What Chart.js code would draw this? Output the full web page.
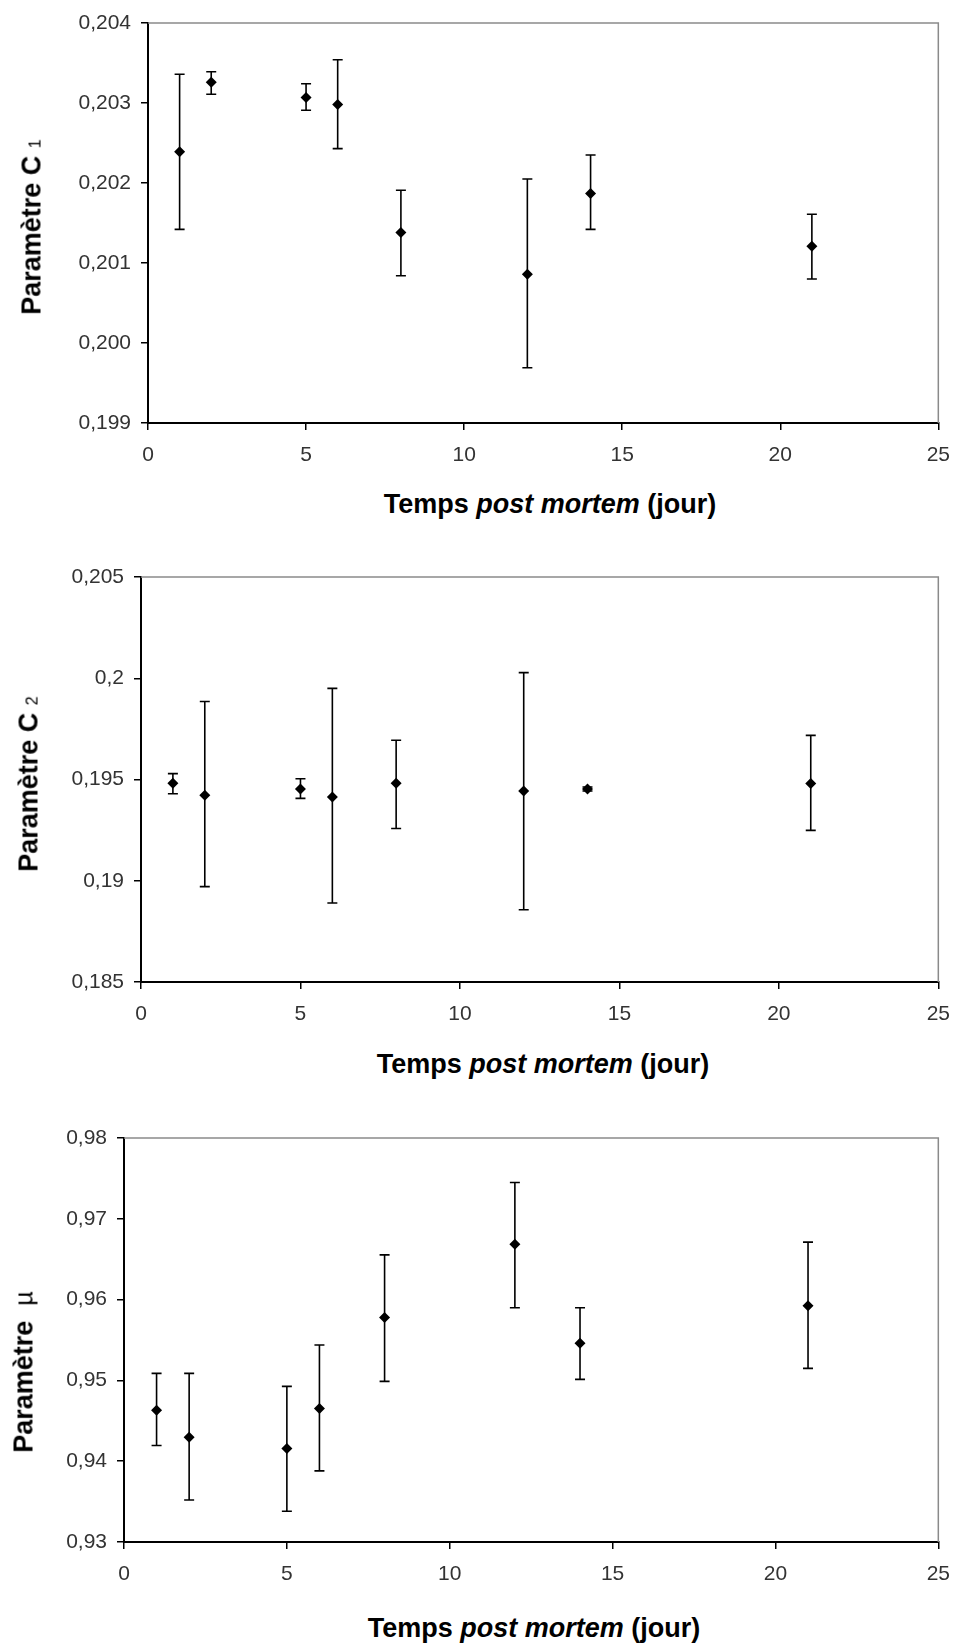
<!DOCTYPE html>
<html>
<head>
<meta charset="utf-8">
<script src="https://cdn.jsdelivr.net/npm/chart.js@4/dist/chart.umd.min.js"></script>
<style>
  body { margin: 0; background: #fff; }
  #page { position: relative; width: 963px; height: 1646px; }
  .box { position: absolute; left: 0; width: 963px; }
  .ytitle, .xtitle {
    position: absolute; white-space: nowrap; line-height: 1;
    font-family: "Liberation Sans", Arial, sans-serif; font-weight: bold; font-size: 27px; color: #000;
  }
  .ytitle { transform: translate(-50%, -50%) rotate(-90deg); }
  .xtitle { transform: translate(-50%, -50%); }
  .sub { font-size: 16px; font-weight: normal; }
  .mu { font-weight: normal; font-size: 25px; }
</style>
</head>
<body>
<div id="page">
  <div class="box" style="top:0px;height:470px"><canvas id="c1" width="963" height="470"></canvas></div>
  <div class="box" style="top:540px;height:490px"><canvas id="c2" width="963" height="490"></canvas></div>
  <div class="box" style="top:1100px;height:500px"><canvas id="c3" width="963" height="500"></canvas></div>

  <div class="ytitle" style="left:32px;top:227px">Paramètre C <span class="sub">1</span></div>
  <div class="ytitle" style="left:29px;top:784px">Paramètre C <span class="sub">2</span></div>
  <div class="ytitle" style="left:24px;top:1372px">Paramètre &nbsp;<span class="mu">µ</span></div>

  <div class="xtitle" style="left:550px;top:504px">Temps <i>post mortem</i> (jour)</div>
  <div class="xtitle" style="left:543px;top:1064px">Temps <i>post mortem</i> (jour)</div>
  <div class="xtitle" style="left:534px;top:1628px">Temps <i>post mortem</i> (jour)</div>
</div>
<script>
// jours post mortem
const days = [1, 2, 5, 6, 8, 12, 14, 21];

// parametre C1
const c1Mean = [0.20239, 0.20326, 0.20307, 0.20298, 0.20138, 0.20086, 0.20187, 0.20121];
const c1Low  = [0.20142, 0.20311, 0.20291, 0.20243, 0.20084, 0.19969, 0.20142, 0.20080];
const c1High = [0.20336, 0.20339, 0.20324, 0.20354, 0.20191, 0.20205, 0.20235, 0.20161];

// parametre C2
const c2Mean = [0.19481, 0.19422, 0.19453, 0.19414, 0.19481, 0.19443, 0.19453, 0.19480];
const c2Low  = [0.19430, 0.18971, 0.19407, 0.18890, 0.19258, 0.18857, 0.19443, 0.19249];
const c2High = [0.19529, 0.19885, 0.19504, 0.19950, 0.19694, 0.20028, 0.19463, 0.19718];

// parametre mu
const muMean = [0.94632, 0.94297, 0.94157, 0.94653, 0.95777, 0.96686, 0.95459, 0.95925];
const muLow  = [0.94194, 0.93520, 0.93380, 0.93880, 0.94988, 0.95900, 0.95013, 0.95149];
const muHigh = [0.95087, 0.95087, 0.94926, 0.95438, 0.96553, 0.97450, 0.95900, 0.96711];

const xTicks = { min: 0, max: 25, step: 5 };

// barres d'erreur (pas dispo dans chart.js)
const errorBars = {
  id: "errorBars",
  beforeDatasetsDraw(chart) {
    const ds = chart.data.datasets[0];
    const x = chart.scales.x, y = chart.scales.y;
    const ctx = chart.ctx;
    ctx.save();
    ctx.strokeStyle = "#000";
    ctx.lineWidth = 1.6;
    ds.data.forEach((p, i) => {
      const px = x.getPixelForValue(p.x);
      const top = y.getPixelForValue(ds.errHigh[i]);
      const bot = y.getPixelForValue(ds.errLow[i]);
      ctx.beginPath();
      ctx.moveTo(px, top); ctx.lineTo(px, bot);
      ctx.moveTo(px - 5, top); ctx.lineTo(px + 5, top);
      ctx.moveTo(px - 5, bot); ctx.lineTo(px + 5, bot);
      ctx.stroke();
    });
    ctx.restore();
  }
};

// cadre gris en haut et a droite
const frame = {
  id: "frame",
  afterDraw(chart) {
    const a = chart.chartArea, ctx = chart.ctx;
    ctx.save();
    ctx.strokeStyle = "#8a8a8a";
    ctx.lineWidth = 1.5;
    ctx.beginPath();
    ctx.moveTo(a.left, a.top); ctx.lineTo(a.right, a.top); ctx.lineTo(a.right, a.bottom);
    ctx.stroke();
    ctx.restore();
  }
};

function makeChart(id, mean, low, high, yMin, yMax, yStep, fmt, yWidth, xHeight, padTop, padRight) {
  const pts = days.map((d, i) => ({ x: d, y: mean[i] }));
  return new Chart(document.getElementById(id), {
    type: "scatter",
    data: {
      datasets: [{
        data: pts,
        errLow: low,
        errHigh: high,
        pointStyle: "rectRot",
        pointRadius: 5.5,
        pointHoverRadius: 5.5,
        backgroundColor: "#000",
        borderColor: "#000",
        borderWidth: 0
      }]
    },
    options: {
      responsive: false,
      animation: false,
      layout: { padding: { top: padTop, right: padRight, left: 0, bottom: 0 } },
      plugins: { legend: { display: false }, tooltip: { enabled: false } },
      scales: {
        x: {
          type: "linear",
          min: xTicks.min, max: xTicks.max,
          afterFit: (s) => { s.height = xHeight; },
          border: { display: true, color: "#000", width: 2 },
          grid: { display: true, drawOnChartArea: false, drawTicks: true, tickLength: 7, color: "#000", lineWidth: 1.5 },
          ticks: {
            stepSize: xTicks.step, padding: 13, color: "#333",
            font: { family: "'Liberation Sans', Arial, sans-serif", size: 21 }
          }
        },
        y: {
          min: yMin, max: yMax,
          afterFit: (s) => { s.width = yWidth; },
          border: { display: true, color: "#000", width: 2 },
          grid: { display: true, drawOnChartArea: false, drawTicks: true, tickLength: 7, color: "#000", lineWidth: 1.5 },
          ticks: {
            stepSize: yStep, padding: 10, color: "#333",
            font: { family: "'Liberation Sans', Arial, sans-serif", size: 21 },
            callback: fmt
          }
        }
      }
    },
    plugins: [errorBars, frame]
  });
}

const fix3 = (v) => v.toFixed(3).replace(".", ",");
const trim3 = (v) => String(Number(v.toFixed(3))).replace(".", ",");
const fix2 = (v) => v.toFixed(2).replace(".", ",");

makeChart("c1", c1Mean, c1Low, c1High, 0.199, 0.204, 0.001, fix3, 148, 47, 23, 14);
makeChart("c2", c2Mean, c2Low, c2High, 0.185, 0.205, 0.005, trim3, 141, 48, 37, 16);
makeChart("c3", muMean, muLow, muHigh, 0.93, 0.98, 0.01, fix2, 124, 58, 38, 16);
</script>
</body>
</html>
